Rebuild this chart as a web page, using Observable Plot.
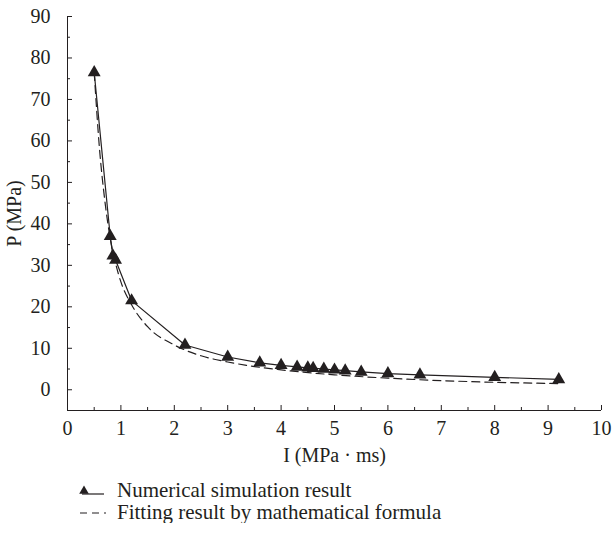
<!DOCTYPE html>
<html>
<head>
<meta charset="utf-8">
<script src="https://cdn.jsdelivr.net/npm/d3@7"></script>
<script src="https://cdn.jsdelivr.net/npm/@observablehq/plot@0.6"></script>
<style>
  body { margin: 0; background: #fff; font-family: "Liberation Serif", serif; color: #231f20; }
  #legend { padding-top: 9px; margin-left: 78px; font-size: 21px; }
  .row { display: flex; align-items: center; height: 22px; }
  .row svg { margin-right: 11px; }
</style>
</head>
<body>
<div id="chart"></div>
<div id="legend"></div>
<script>
// Numerical simulation: impulse I (MPa·ms) vs peak pressure P (MPa)
const simI = [0.5, 0.8, 0.85, 0.9, 1.2, 2.2, 3.0, 3.6, 4.0, 4.3, 4.5, 4.6, 4.8, 5.0, 5.2, 5.5, 6.0, 6.6, 8.0, 9.2];
const simP = [76.5, 37, 32.3, 31.3, 21.5, 10.8, 7.9, 6.5, 5.9, 5.5, 5.3, 5.2, 5.0, 4.8, 4.6, 4.3, 3.9, 3.6, 3.0, 2.5];

// Fitted curve from the mathematical formula, sampled along I
const fitI = [0.5, 0.6, 0.7, 0.8, 0.9, 1.0, 1.2, 1.5, 2.0, 2.5, 3.0, 3.5, 4.0, 5.0, 6.0, 7.0, 8.0, 9.2];
const fitP = [76.5, 58, 45.5, 36.5, 30.5, 26, 20.5, 15.2, 10.8, 8.2, 6.7, 5.6, 4.8, 3.6, 2.8, 2.2, 1.8, 1.5];

// Axis ticks
const xMajor = [0, 1, 2, 3, 4, 5, 6, 7, 8, 9, 10];
const xMinor = [0.5, 1.5, 2.5, 3.5, 4.5, 5.5, 6.5, 7.5, 8.5, 9.5];
const yMajor = [0, 10, 20, 30, 40, 50, 60, 70, 80, 90];
const yMinor = [5, 15, 25, 35, 45, 55, 65, 75, 85];

const legendLabels = ["Numerical simulation result", "Fitting result by mathematical formula"];

const ink = "#231f20";
const sim = simI.map((I, i) => ({I, P: simP[i]}));
const fit = fitI.map((I, i) => ({I, P: fitP[i]}));

const chart = Plot.plot({
  width: 616,
  height: 470,
  marginLeft: 67,
  marginRight: 15,
  marginTop: 16,
  marginBottom: 60,
  style: {fontFamily: "'Liberation Serif', serif", fontSize: "20px", color: ink, background: "#fff"},
  x: {domain: [0, 10]},
  y: {domain: [-5, 90]},
  marks: [
    Plot.ruleX([0], {stroke: ink}),
    Plot.ruleY([-5], {stroke: ink}),
    Plot.axisX(xMajor, {anchor: "bottom", tickSize: -5, tickPadding: 15, stroke: ink, fill: ink,
      label: "I (MPa · ms)", labelAnchor: "center", labelOffset: 51, labelArrow: "none"}),
    Plot.axisX(xMinor, {anchor: "bottom", tickSize: -3, tickFormat: () => "", label: null, stroke: ink}),
    Plot.axisY(yMajor, {anchor: "left", tickSize: -5, tickPadding: 22, stroke: ink, fill: ink,
      label: "P (MPa)", labelAnchor: "center", labelOffset: 61, labelArrow: "none"}),
    Plot.axisY(yMinor, {anchor: "left", tickSize: -3, tickFormat: () => "", label: null, stroke: ink}),
    Plot.line(fit, {x: "I", y: "P", stroke: ink, strokeWidth: 1.2, strokeDasharray: "8,5", curve: "monotone-x"}),
    Plot.line(sim, {x: "I", y: "P", stroke: ink, strokeWidth: 1.2}),
    Plot.dot(sim, {x: "I", y: "P", symbol: "triangle", fill: ink, r: 4.8})
  ]
});
document.getElementById("chart").append(chart);

// Legend below the chart
const legend = d3.select("#legend");
const row1 = legend.append("div").attr("class", "row");
const s1 = row1.append("svg").attr("width", 28).attr("height", 14);
s1.append("line").attr("x1", 4).attr("x2", 26).attr("y1", 11).attr("y2", 11).attr("stroke", ink).attr("stroke-width", 1.2);
s1.append("path").attr("d", d3.symbol(d3.symbolTriangle, Math.PI * 4.8 * 4.8 * 0.55)()).attr("transform", "translate(6,8)").attr("fill", ink);
row1.append("span").text(legendLabels[0]);
const row2 = legend.append("div").attr("class", "row");
const s2 = row2.append("svg").attr("width", 28).attr("height", 14);
s2.append("line").attr("x1", 2).attr("x2", 28).attr("y1", 8).attr("y2", 8).attr("stroke", ink).attr("stroke-width", 1.2).attr("stroke-dasharray", "7,5");
row2.append("span").text(legendLabels[1]);
</script>
</body>
</html>
